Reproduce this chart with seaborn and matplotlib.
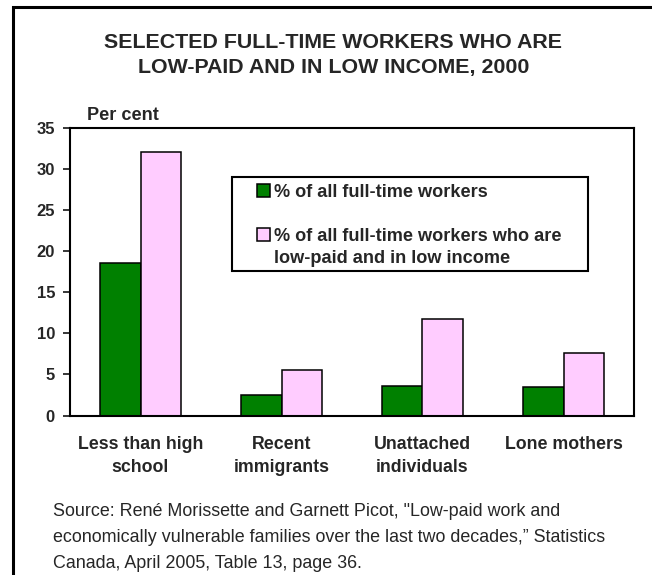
import matplotlib
matplotlib.use("Agg")
import matplotlib.pyplot as plt
from matplotlib.patches import Patch, Rectangle
import pandas as pd
import seaborn as sns

# Values (per cent)
categories = ["Less than high\nschool", "Recent\nimmigrants", "Unattached\nindividuals", "Lone mothers"]
series_names = ["% of all full-time workers",
                "% of all full-time workers who are\nlow-paid and in low income"]
all_workers = [18.6, 2.5, 3.6, 3.5]
low_paid_low_income = [32.1, 5.6, 11.7, 7.6]
y_ticks = [0, 5, 10, 15, 20, 25, 30, 35]
colors = ["#008000", "#FFCCFF"]

df = pd.DataFrame({
    "group": categories * 2,
    "series": [series_names[0]] * len(categories) + [series_names[1]] * len(categories),
    "value": all_workers + low_paid_low_income,
})

sns.set_theme(style="white")
plt.rcParams["font.family"] = ["Liberation Sans", "DejaVu Sans"]

W, H = 652, 575
fig = plt.figure(figsize=(W / 100, H / 100), dpi=100)
ax = fig.add_axes([70 / W, 1 - 415.5 / H, 564 / W, 287.2 / H])

sns.barplot(data=df, x="group", y="value", hue="series", order=categories,
            hue_order=series_names, palette=colors, saturation=1, width=0.575,
            edgecolor="black", linewidth=1.1, legend=False, ax=ax)

ax.set_xlim(-0.5, len(categories) - 0.5)
ax.set_ylim(0, 35)
ax.set_yticks(y_ticks)
ax.set_xlabel("")
ax.set_ylabel("")

for side in ["left", "right", "top", "bottom"]:
    ax.spines[side].set_visible(True)
    ax.spines[side].set_color("black")
    ax.spines[side].set_linewidth(1.5)

ax.set_xticks([i - 0.5 for i in range(len(categories) + 1)], minor=True)
ax.tick_params(axis="x", which="major", length=0, pad=15)
ax.tick_params(axis="x", which="minor", length=4.8, width=1.1, color="black", direction="out")
ax.tick_params(axis="y", which="major", length=5, width=1.1, color="black", direction="out",
               pad=5.8, left=True)
for lab in ax.get_xticklabels():
    lab.set_fontsize(12.8)
    lab.set_fontweight("bold")
    lab.set_linespacing(1.46)
for lab in ax.get_yticklabels():
    lab.set_fontsize(12)
    lab.set_fontweight("bold")

# Legend inside the plot with its own box
handles = [Patch(facecolor=c, edgecolor="black", linewidth=1.1) for c in colors]
leg = ax.legend(handles, series_names, loc="upper left",
                bbox_to_anchor=((257 - 70) / 564, (415.5 - 184) / 287.2),
                frameon=False, borderpad=0, borderaxespad=0,
                handlelength=0.71, handleheight=0.71, handletextpad=0.22,
                labelspacing=1.5, prop={"weight": "bold", "size": 13.1})
for t in leg.get_texts():
    t.set_linespacing(1.36)
for col in leg._legend_handle_box.get_children():
    for item in col.get_children():
        item.align = "top"
ax.add_patch(Rectangle(((232 - 70) / 564, (415.5 - 271) / 287.2),
                       (588 - 232) / 564, (271 - 177) / 287.2,
                       transform=ax.transAxes, fill=False, edgecolor="black",
                       linewidth=1.5, zorder=5))

# Titles and notes (baseline of the last line is given)
fig.text(333.5 / W, 1 - 73.3 / H,
         "SELECTED FULL-TIME WORKERS WHO ARE\nLOW-PAID AND IN LOW INCOME, 2000",
         ha="center", va="baseline", fontsize=15.4, fontweight="bold", linespacing=1.42)
fig.text(87 / W, 1 - 120 / H, "Per cent", ha="left", va="baseline",
         fontsize=13.1, fontweight="bold")
fig.text(52.8 / W, 1 - 568 / H,
         "Source: René Morissette and Garnett Picot, \"Low-paid work and\n"
         "economically vulnerable families over the last two decades,\u201d Statistics\n"
         "Canada, April 2005, Table 13, page 36.",
         ha="left", va="baseline", fontsize=12.9, linespacing=1.69)

# Outer frame, open towards the right and bottom edges
fig.patches.append(Rectangle((13 / W, -0.2), 2, 1.2 - 7 / H, transform=fig.transFigure,
                             fill=False, edgecolor="black", linewidth=2.2))

fig.savefig("out.png", dpi=100)
